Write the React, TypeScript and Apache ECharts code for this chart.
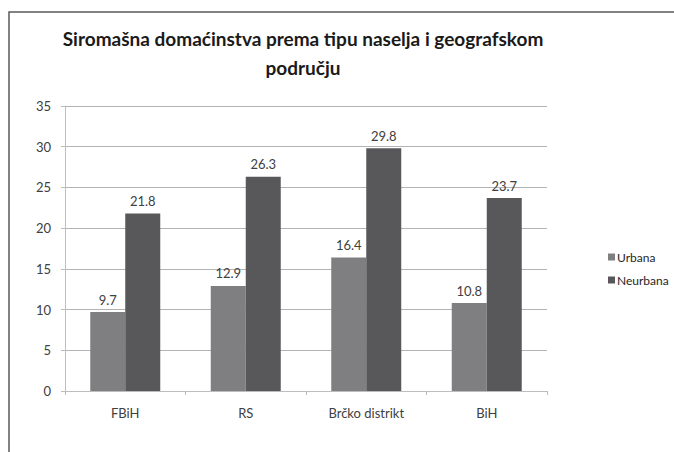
import React, { useEffect, useRef } from "react";
import * as echarts from "echarts";

const categories = ["FBiH", "RS", "Brčko distrikt", "BiH"];
const urbana = [9.7, 12.9, 16.4, 10.8];
const neurbana = [21.8, 26.3, 29.8, 23.7];
const seriesNames = ["Urbana", "Neurbana"];
const titleText = "Siromašna domaćinstva prema tipu naselja i geografskom\npodručju";

const FONT = "Lato, 'Open Sans', sans-serif";

export default function App() {
  const ref = useRef<HTMLDivElement>(null);
  useEffect(() => {
    if (!ref.current) return;
    const chart = echarts.init(ref.current, null, { renderer: "svg" });
    const label = {
      show: true,
      position: "top",
      distance: 6,
      color: "#404040",
      fontSize: 13,
      fontFamily: FONT,
    };
    chart.setOption({
      animation: false,
      backgroundColor: "#ffffff",
      title: {
        text: titleText,
        left: 303,
        top: 24,
        padding: 0,
        textAlign: "center",
        textStyle: {
          fontFamily: FONT,
          fontSize: 19,
          fontWeight: "bold",
          color: "#1a1a1a",
          lineHeight: 29,
        },
      },
      legend: {
        orient: "vertical",
        left: 603,
        top: 246,
        itemWidth: 7,
        itemHeight: 7,
        itemGap: 11,
        icon: "rect",
        data: seriesNames,
        textStyle: { fontFamily: FONT, fontSize: 12, color: "#262626", padding: [0, 0, 0, -3] },
      },
      grid: { left: 65, right: 127, top: 106, bottom: 61, containLabel: false },
      xAxis: {
        type: "category",
        data: categories,
        axisLine: { show: true, lineStyle: { color: "#bdbdbd", width: 1 } },
        axisTick: { show: true, length: 4, alignWithLabel: false, lineStyle: { color: "#bdbdbd" } },
        axisLabel: { margin: 15, color: "#404040", fontSize: 13, fontFamily: FONT },
        splitLine: { show: false },
      },
      yAxis: {
        type: "value",
        min: 0,
        max: 35,
        interval: 5,
        axisLine: { show: true, lineStyle: { color: "#bdbdbd", width: 1 } },
        axisTick: { show: true, length: 4, lineStyle: { color: "#bdbdbd" } },
        axisLabel: { margin: 14, color: "#404040", fontSize: 13, fontFamily: FONT },
        splitLine: { show: true, lineStyle: { color: "#b3b3b3", width: 1 } },
      },
      series: [
        {
          name: seriesNames[0],
          type: "bar",
          data: urbana,
          barWidth: 35,
          barGap: "0%",
          itemStyle: { color: "#7f7f82" },
          label,
        },
        {
          name: seriesNames[1],
          type: "bar",
          data: neurbana,
          barWidth: 35,
          barGap: "0%",
          itemStyle: { color: "#58585b" },
          label,
        },
      ],
      graphic: [
        {
          type: "polyline",
          shape: { points: [[9, 460], [9, 12], [680, 12]] },
          style: { stroke: "#5a5a5a", lineWidth: 1.5, fill: "none" },
          silent: true,
        },
      ],
    });
    return () => chart.dispose();
  }, []);
  return (
    <div
      ref={ref}
      style={{ position: "fixed", left: 0, top: 0, width: 674, height: 452 }}
    />
  );
}
